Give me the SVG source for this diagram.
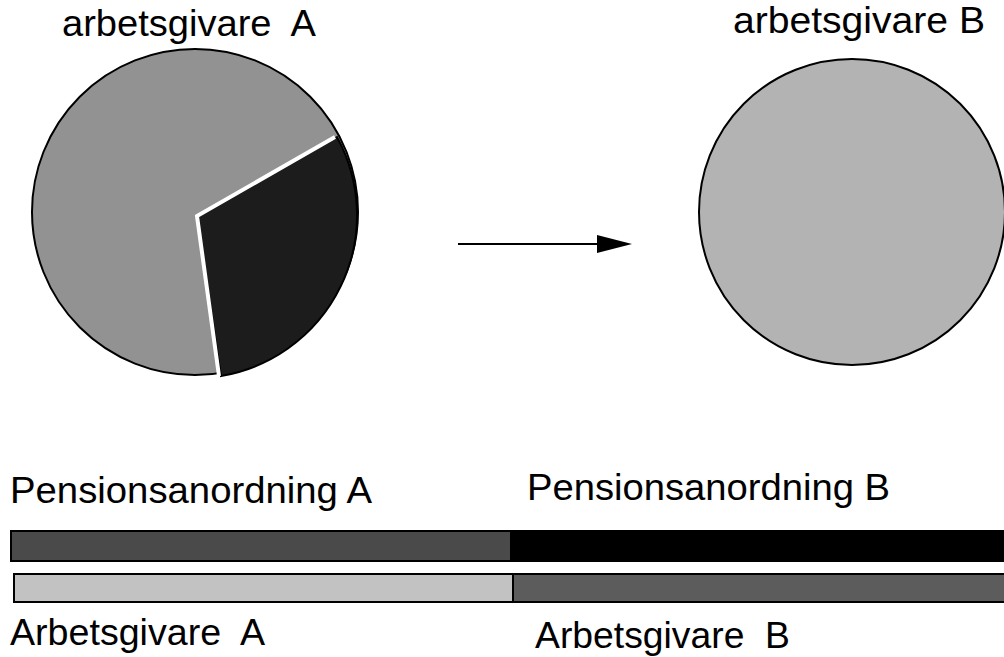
<svg xmlns="http://www.w3.org/2000/svg" width="1004" height="657" viewBox="0 0 1004 657">
<style>
text{font-family:"Liberation Sans",Arial,sans-serif;font-size:37px;fill:#000;white-space:pre}
.outline{stroke:#000;stroke-width:2}
</style>
<rect width="1004" height="657" fill="#fff"/>
<g id="pieA">
<circle cx="195" cy="212" r="163" fill="#929292" class="outline"/>
<path d="M197,216 L337,137 A163,163 0 0 1 221,376 Z" fill="#1c1c1c" class="outline"/>
<polyline points="335,137 197,216 219,376" fill="none" stroke="#fff" stroke-width="4"/>
<text x="62" y="36" textLength="254" lengthAdjust="spacingAndGlyphs" xml:space="preserve">arbetsgivare  A</text>
</g>
<g id="pieB">
<circle cx="852" cy="212" r="153" fill="#b3b3b3" class="outline"/>
<text x="733" y="33" textLength="252" lengthAdjust="spacingAndGlyphs">arbetsgivare B</text>
</g>
<g id="connectors">
<line x1="458" y1="244" x2="598" y2="244" stroke="#000" stroke-width="2"/>
<path d="M597,235 L632,244 L597,253 Z" fill="#000"/>
</g>
<g id="barPension">
<rect x="11" y="531" width="500" height="30" fill="#4a4a4a" class="outline"/>
<rect x="511" y="531" width="495" height="30" fill="#000" class="outline"/>
<text x="10" y="503" textLength="362" lengthAdjust="spacingAndGlyphs">Pensionsanordning A</text>
<text x="527" y="500" textLength="363" lengthAdjust="spacingAndGlyphs">Pensionsanordning B</text>
</g>
<g id="barArbetsgivare">
<rect x="14" y="574" width="499" height="28" fill="#c2c2c2" class="outline"/>
<rect x="513" y="574" width="493" height="28" fill="#5c5c5c" class="outline"/>
<text x="10" y="645" textLength="255" lengthAdjust="spacingAndGlyphs" xml:space="preserve">Arbetsgivare  A</text>
<text x="535" y="648" textLength="255" lengthAdjust="spacingAndGlyphs" xml:space="preserve">Arbetsgivare  B</text>
</g>
</svg>
